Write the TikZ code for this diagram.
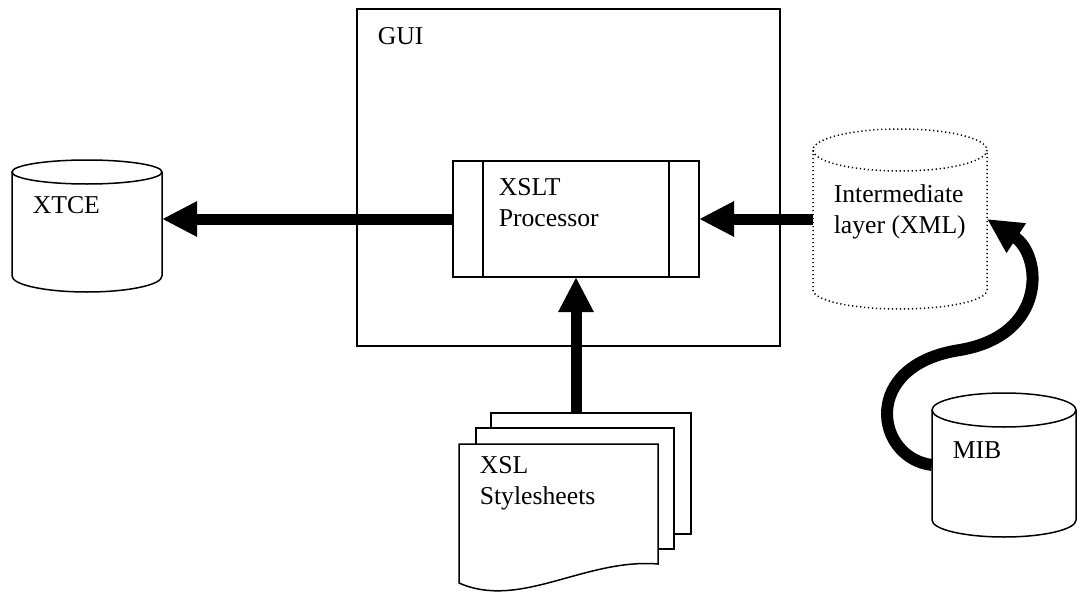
\documentclass[tikz,border=0pt]{standalone}
\usepackage{fontspec}
\setmainfont{Liberation Serif}
\usetikzlibrary{positioning,arrows.meta,fit}

\begin{document}
\begin{tikzpicture}[
    x=0.5pt, y=-0.5pt,
    line width=0.75pt,
    area/.style={inner sep=0pt, outer sep=0pt},
    frame/.style={area, draw, fill=white},
    lbl/.style={inner sep=0pt, anchor=base west, align=left, font=\fontsize{12.85}{15.2}\selectfont},
    dots/.style={dash pattern=on 0.6pt off 1.4pt},
    fat/.style={line width=5.5pt, -{Triangle[length=17.5pt, width=16.5pt]}}
]
\fill[white] (0,0) rectangle (1078,594);
\useasboundingbox (0,0) rectangle (1078,594);

% GUI frame with the processor inside
\node[frame, fit={(357,9) (780,346)}] (gui) {};
\node[lbl] (guilbl) at (377,45) {GUI};
\node[frame, fit={(453,161) (699,277)}] (xslt) {};
\draw[line width=0.6pt] ([xshift=15pt]xslt.north west) -- ([xshift=15pt]xslt.south west);
\draw[line width=0.6pt] ([xshift=-15pt]xslt.north east) -- ([xshift=-15pt]xslt.south east);
\node[lbl] (xsltlbl) at (498,226) {XSLT\\Processor};

% XTCE store
\node[area, fit={(12,160) (162,292)}] (xtce) {};
\draw[fill=white] (12,172) -- (12,276) arc[start angle=180, end angle=0, x radius=75, y radius=16] -- (162,172);
\draw (87,172) ellipse[x radius=75, y radius=12];
\node[lbl] (xtcelbl) at (32,213) {XTCE};

% Intermediate layer (dotted)
\node[area, fit={(813,129) (987,309)}] (inter) {};
\draw[dots] (813,150) -- (813,290) arc[start angle=180, end angle=0, x radius=87, y radius=19] -- (987,150);
\draw[dots] (900,150) ellipse[x radius=87, y radius=21];
\node[lbl] (interlbl) at (833,233) {Intermediate\\layer (XML)};

% MIB store
\node[area, fit={(932,393) (1077,537)}] (mib) {};
\draw[fill=white] (932,410) -- (932,520) arc[start angle=180, end angle=0, x radius=72, y radius=17] -- (1076,410);
\draw (1004,410) ellipse[x radius=72, y radius=17];
\node[lbl] (miblbl) at (952,458) {MIB};

% Stylesheets (stack of pages)
\node[frame, fit={(491,413) (691,534)}] (sheet3) {};
\node[frame, fit={(476,428) (674,549)}] (sheet2) {};
\draw[fill=white] (459,444) -- (658,444) -- (658,564) .. controls (585,558) and (520,610) .. (459,583) -- cycle;
\node[area, fit={(459,444) (658,583)}] (sheet1) {};
\node[lbl] (xsllbl) at (479,504) {XSL\\Stylesheets};

% data flow
\draw[fat] (xslt.west) -- (xslt.west -| xtce.east);
\draw[fat] (xslt.east -| inter.west) -- (xslt.east);
\draw[fat] (sheet3.north -| xslt.south) -- (xslt.south);
\draw[fat, line width=6pt] (mib.west) .. controls (875,458) and (860,365) .. (960,350)
    .. controls (1048,335) and (1042,255) .. (inter.east);
\end{tikzpicture}
\end{document}
